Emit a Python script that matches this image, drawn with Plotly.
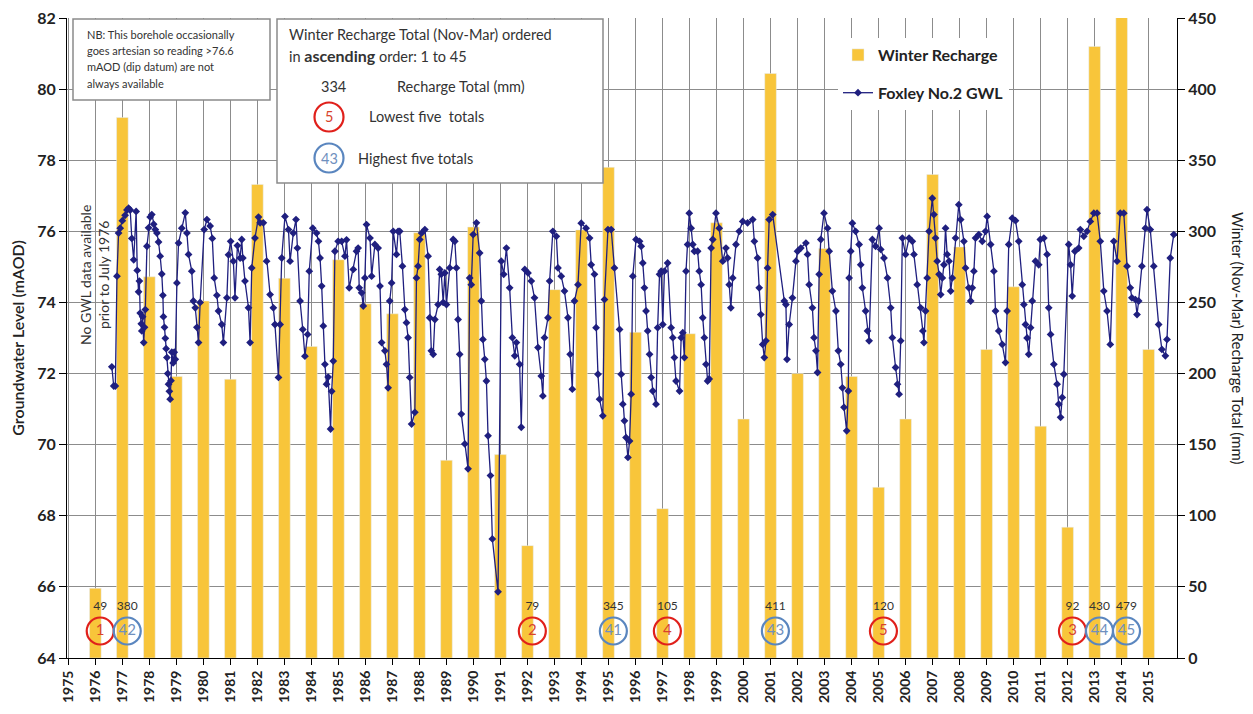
"""
Foxley No.2 groundwater level against winter (Nov-Mar) recharge totals, 1976-2015
"""
import plotly.graph_objects as go

FONT = "Lato, 'Open Sans', sans-serif"
BAR_COLOR = "#F8C53A"
LINE_COLOR = "#1F1F7F"
GRID_COLOR = "#8C8C8C"
RED = "#E0201B"
BLUE = "#5A86BF"

# Winter recharge totals (mm), one bar per year
recharge_years = list(range(1976, 2016))
recharge_mm = [49, 380, 268, 198, 251, 196, 333, 267, 219, 280,
               249, 242, 299, 139, 303, 143, 79, 259, 301, 345,
               229, 105, 228, 306, 168, 411, 200, 288, 198, 120,
               168, 340, 289, 217, 261, 163, 92, 430, 479, 217]

# Ranked years (lowest / highest five totals)
low_years = [1976, 1992, 1997, 2005, 2012]
low_ranks = ["1", "2", "4", "5", "3"]
high_years = [1977, 1995, 2001, 2013, 2014]
high_ranks = ["42", "41", "43", "44", "45"]

# Groundwater level (mAOD) readings, decimal year
gwl_year = [
    1976.61, 1976.68, 1976.74, 1976.80, 1976.86, 1976.92,
    1977.00, 1977.10, 1977.17, 1977.23, 1977.29, 1977.35, 1977.42, 1977.51, 1977.55, 1977.60,
    1977.63, 1977.66, 1977.70, 1977.72, 1977.75, 1977.79, 1977.82, 1977.85, 1977.91, 1977.97,
    1978.03, 1978.09, 1978.16, 1978.22, 1978.28, 1978.34, 1978.40, 1978.46, 1978.50, 1978.52,
    1978.56, 1978.59, 1978.62, 1978.65, 1978.68, 1978.71, 1978.74, 1978.77, 1978.80, 1978.83,
    1978.88, 1978.92, 1978.96,
    1979.02, 1979.08, 1979.20, 1979.33, 1979.39, 1979.45, 1979.57, 1979.63, 1979.70, 1979.76, 1979.82, 1979.88,
    1980.03, 1980.13, 1980.25, 1980.33, 1980.40, 1980.50, 1980.56, 1980.68, 1980.74, 1980.87, 1980.93,
    1981.01, 1981.11, 1981.17, 1981.26, 1981.36, 1981.42, 1981.46, 1981.54, 1981.67, 1981.73, 1981.79, 1981.91,
    1982.04, 1982.10, 1982.22, 1982.34, 1982.47, 1982.59, 1982.65, 1982.78, 1982.84, 1982.90,
    1983.02, 1983.15, 1983.21, 1983.33, 1983.43, 1983.48, 1983.58, 1983.68, 1983.76, 1983.86, 1983.92,
    1984.05, 1984.19, 1984.26, 1984.32, 1984.38, 1984.44, 1984.50, 1984.56, 1984.62, 1984.71, 1984.75,
    1984.81, 1984.87, 1984.99,
    1985.12, 1985.24, 1985.30, 1985.40, 1985.55, 1985.67, 1985.73, 1985.77, 1985.86, 1985.92, 1985.98,
    1986.04, 1986.17, 1986.23, 1986.35, 1986.47, 1986.54, 1986.60, 1986.72, 1986.78, 1986.84, 1986.90, 1986.97,
    1987.03, 1987.15, 1987.21, 1987.27, 1987.37, 1987.46, 1987.52, 1987.58, 1987.64, 1987.71, 1987.83,
    1987.89, 1987.95,
    1988.01, 1988.08, 1988.20, 1988.32, 1988.38, 1988.44, 1988.51, 1988.57, 1988.69, 1988.75, 1988.81,
    1988.88, 1988.94,
    1989.00, 1989.12, 1989.25, 1989.31, 1989.37, 1989.43, 1989.49, 1989.55, 1989.68, 1989.80, 1989.86,
    1989.92, 1989.99,
    1990.11, 1990.23, 1990.29, 1990.35, 1990.42, 1990.48, 1990.54, 1990.63, 1990.70, 1990.91,
    1991.03, 1991.12, 1991.22, 1991.34, 1991.44, 1991.53, 1991.59, 1991.71, 1991.77, 1991.90,
    1992.02, 1992.14, 1992.26, 1992.39, 1992.51, 1992.57, 1992.63, 1992.76, 1992.82, 1992.94,
    1993.07, 1993.13, 1993.25, 1993.37, 1993.50, 1993.58, 1993.66, 1993.74, 1993.87, 1993.99,
    1994.17, 1994.30, 1994.36, 1994.48, 1994.54, 1994.61, 1994.67, 1994.79, 1994.85, 1994.98,
    1995.10, 1995.22, 1995.41, 1995.47, 1995.53, 1995.59, 1995.65, 1995.72, 1995.78, 1995.84, 1995.90,
    1996.02, 1996.15, 1996.21, 1996.27, 1996.33, 1996.39, 1996.45, 1996.52, 1996.58, 1996.64, 1996.76,
    1996.82, 1996.89, 1996.95,
    1997.01, 1997.07, 1997.19, 1997.32, 1997.38, 1997.44, 1997.50, 1997.63, 1997.69, 1997.75, 1997.81,
    1997.87, 1997.93, 1997.99,
    1998.06, 1998.12, 1998.18, 1998.30, 1998.36, 1998.43, 1998.49, 1998.55, 1998.61, 1998.67, 1998.73,
    1998.80, 1998.86, 1998.98,
    1999.10, 1999.23, 1999.35, 1999.41, 1999.47, 1999.53, 1999.60, 1999.72, 1999.84, 1999.97,
    2000.15, 2000.34, 2000.40, 2000.52, 2000.58, 2000.64, 2000.71, 2000.77, 2000.83, 2000.89, 2000.95,
    2001.08, 2001.51, 2001.57, 2001.61, 2001.69, 2001.81, 2001.94,
    2002.00, 2002.12, 2002.31, 2002.37, 2002.43, 2002.55, 2002.61, 2002.68, 2002.74, 2002.80, 2002.86, 2002.98,
    2003.11, 2003.17, 2003.29, 2003.42, 2003.51, 2003.60, 2003.66, 2003.72, 2003.82, 2003.88, 2003.91, 2003.97,
    2004.03, 2004.15, 2004.28, 2004.34, 2004.40, 2004.52, 2004.59, 2004.65, 2004.77, 2004.89,
    2005.02, 2005.08, 2005.20, 2005.33, 2005.45, 2005.51, 2005.63, 2005.70, 2005.76, 2005.82, 2005.88,
    2006.00, 2006.13, 2006.25, 2006.31, 2006.43, 2006.56, 2006.64, 2006.68, 2006.74, 2006.80, 2006.87, 2006.99,
    2007.05, 2007.11, 2007.17, 2007.24, 2007.30, 2007.36, 2007.42, 2007.48, 2007.54, 2007.61, 2007.67,
    2007.73, 2007.85, 2007.97,
    2008.04, 2008.16, 2008.22, 2008.34, 2008.41, 2008.47, 2008.53, 2008.59, 2008.71, 2008.84, 2008.96,
    2009.02, 2009.15, 2009.27, 2009.33, 2009.45, 2009.58, 2009.70, 2009.76, 2009.82, 2009.95,
    2010.07, 2010.19, 2010.32, 2010.38, 2010.44, 2010.50, 2010.56, 2010.63, 2010.69, 2010.81, 2010.93, 2010.99,
    2011.12, 2011.24, 2011.30, 2011.37, 2011.49, 2011.61, 2011.67, 2011.74, 2011.80, 2011.86,
    2012.04, 2012.11, 2012.17, 2012.27, 2012.41, 2012.47, 2012.60, 2012.72, 2012.84, 2012.97,
    2013.09, 2013.21, 2013.34, 2013.46, 2013.58, 2013.71, 2013.83, 2013.95,
    2014.08, 2014.20, 2014.32, 2014.38, 2014.51, 2014.57, 2014.63, 2014.75, 2014.88, 2014.94,
    2015.06, 2015.19, 2015.37, 2015.49, 2015.62, 2015.68, 2015.80, 2015.93,
]
gwl_level = [
    72.19, 71.65, 71.65, 74.74, 75.95, 76.09,
    76.30, 76.45, 76.60, 76.65, 76.60, 75.80, 75.20, 76.56, 74.90, 74.30,
    74.60, 73.70, 73.40, 73.20, 73.60, 72.87, 73.30, 73.80, 75.58, 76.10,
    76.40, 76.47, 76.20, 76.05, 75.95, 75.70, 75.30, 74.80, 74.20, 73.60,
    73.30, 72.99, 72.70, 72.45, 72.00, 71.70, 71.50, 71.28, 71.80, 72.60,
    72.30, 72.60, 72.40,
    74.55, 75.67, 76.09, 76.52, 75.95, 75.35, 74.88, 74.04, 73.85, 73.30, 72.87, 74.00,
    76.05, 76.33, 76.15, 75.80, 74.69, 74.20, 73.76, 73.38, 72.87, 74.13, 75.34,
    75.72, 75.16, 74.13, 75.60, 75.25, 75.77, 75.25, 74.60, 73.85, 72.87, 74.97, 75.81,
    76.40, 76.24, 76.24, 75.16, 74.22, 73.85, 73.38, 71.89, 73.38, 75.25,
    76.42, 76.05, 75.16, 75.95, 76.33, 75.53, 74.04, 73.24, 72.49, 73.10, 74.88,
    76.09, 75.95, 75.72, 75.25, 74.46, 73.34, 72.26, 71.70, 71.90, 70.44, 71.50,
    72.35, 75.44, 75.72,
    75.72, 75.30, 75.76, 74.41, 74.93, 75.44, 75.53, 74.41, 74.27, 73.90, 74.69,
    76.19, 75.81, 74.74, 75.63, 75.53, 74.46, 72.87, 72.64, 72.26, 71.60, 74.04, 74.55,
    76.00, 75.35, 76.00, 76.00, 75.02, 73.80, 73.43, 73.01, 71.89, 70.58, 70.91,
    74.69, 75.02,
    75.77, 75.95, 76.05, 75.30, 73.57, 72.64, 72.54, 73.52, 73.94, 74.93, 74.79,
    74.00, 74.83,
    73.94, 74.97, 75.77, 75.72, 74.97, 73.52, 72.54, 70.86, 70.02, 69.32, 74.69,
    74.50, 75.91,
    76.24, 75.39, 74.04, 72.96, 72.40, 71.79, 70.25, 69.13, 67.35, 65.86,
    75.16, 74.79, 75.53, 74.41, 73.01, 72.50, 72.87, 72.26, 70.49, 74.93,
    74.83, 74.60, 74.13, 72.73, 71.93, 71.37, 73.01, 73.57, 74.60, 76.00,
    75.86, 74.97, 74.74, 74.32, 73.57, 72.54, 71.56, 74.04, 74.50, 76.23,
    76.09, 75.81, 75.06, 74.79, 73.29, 71.98, 71.28, 70.81, 74.08, 76.05,
    76.05, 74.97, 73.24, 71.98, 71.14, 70.67, 70.20, 69.64, 70.10, 71.42, 74.74,
    75.77, 75.72, 75.58, 75.11, 74.41, 73.76, 73.20, 72.54, 71.89, 71.51, 71.14,
    73.29, 74.79, 74.88,
    73.38, 74.88, 75.11, 73.29, 73.01, 72.45, 71.79, 71.51, 73.01, 73.15, 72.45,
    74.88, 75.63, 76.51,
    76.09, 75.63, 75.44, 75.44, 74.88, 74.50, 73.57, 73.01, 72.26, 71.79, 71.85,
    75.53, 75.77, 76.51,
    76.09, 75.16, 75.53, 75.25, 74.50, 73.85, 74.69, 75.63, 76.00, 76.28,
    76.24, 76.33, 75.72, 75.25, 74.41, 73.66, 72.82, 72.45, 72.92, 74.97, 76.33,
    76.47, 74.04, 73.94, 72.40, 73.38, 74.13, 75.16,
    75.44, 75.53, 75.67, 75.35, 74.50, 73.85, 73.01, 72.64, 72.03, 74.79, 75.77, 76.51,
    76.09, 75.44, 74.32, 73.76, 72.64, 72.26, 71.60, 71.05, 70.39, 71.51, 74.69, 75.44,
    76.23, 76.00, 75.63, 75.06, 74.41, 73.76, 73.20, 72.92, 75.77, 75.58,
    76.09, 75.49, 75.25, 74.69, 73.85, 73.01, 72.17, 71.70, 71.42, 72.92, 75.81,
    75.35, 75.81, 75.72, 75.35, 74.50, 73.85, 73.20, 72.87, 73.76, 74.69, 76.00, 76.93,
    76.47, 75.81, 75.16, 74.79, 74.22, 74.69, 75.06, 76.09, 75.35, 75.16, 74.32,
    74.69, 75.81, 76.75,
    76.33, 75.72, 74.97, 74.41, 74.04, 74.41, 74.88, 75.81, 75.91, 75.72, 76.00,
    76.42, 75.63, 74.88, 73.76, 73.20, 72.82, 72.31, 73.76, 75.63, 76.37,
    76.30, 75.72, 74.50, 73.94, 73.38, 73.00, 72.54, 73.29, 74.04, 75.16, 75.06, 75.77,
    75.81, 75.35, 73.85, 73.10, 72.26, 71.70, 71.14, 70.77, 71.33, 71.98,
    75.63, 75.06, 74.18, 75.44, 75.53, 76.05, 75.86, 76.00, 76.28, 76.51,
    76.51, 75.72, 74.32, 73.76, 72.82, 75.72, 75.16, 76.51,
    76.51, 75.02, 74.41, 74.13, 74.08, 73.66, 74.04, 75.02, 76.09, 76.61,
    76.05, 75.02, 73.38, 72.68, 72.50, 72.96, 75.25, 75.91,
]
assert len(gwl_year) == len(gwl_level)

tick_years = list(range(1975, 2016))

# label placement (recharge axis, mm) and nudge to the right of the year
CIRCLE_LEVEL = 19
VALUE_LEVEL = 36
NUDGE = 0.18


def recharge_of(year):
    return recharge_mm[recharge_years.index(year)]


# helpers to place the text boxes, measured from the plot area (1110 x 640 px)
def paper_x(px):
    return (px - 67) / 1110


def paper_y(py):
    return (658 - py) / 640


fig = go.Figure()

fig.add_trace(go.Bar(
    x=recharge_years, y=recharge_mm, yaxis="y",
    name="Winter Recharge", marker_color=BAR_COLOR, width=0.43,
    legendgroup="bar",
))

# value labels above the ranked years
ranked = sorted(low_years + high_years)
fig.add_trace(go.Scatter(
    x=[y + NUDGE for y in ranked], y=[VALUE_LEVEL] * len(ranked), yaxis="y",
    mode="text", text=[str(recharge_of(y)) for y in ranked],
    textfont=dict(size=12, color="#333", family=FONT),
    showlegend=False, hoverinfo="skip",
))

for years, ranks, col, txtcol in [(low_years, low_ranks, RED, "#D8442C"),
                                  (high_years, high_ranks, BLUE, "#6F90BE")]:
    fig.add_trace(go.Scatter(
        x=[y + NUDGE for y in years], y=[CIRCLE_LEVEL] * len(years), yaxis="y",
        mode="markers+text", text=ranks, textposition="middle center",
        textfont=dict(size=15, color=txtcol, family=FONT),
        marker=dict(symbol="circle-open", size=27, color=col, line=dict(width=2.2, color=col)),
        showlegend=False, hoverinfo="skip",
    ))

fig.add_trace(go.Scatter(
    x=gwl_year, y=gwl_level, yaxis="y2",
    mode="lines+markers", name="Foxley No.2 GWL",
    line=dict(color=LINE_COLOR, width=1.3),
    marker=dict(symbol="diamond", size=6, color=LINE_COLOR),
    legendgroup="gwl",
))

shapes = [
    # NB note box
    dict(type="rect", xref="paper", yref="paper", x0=paper_x(73), x1=paper_x(270),
         y0=paper_y(100), y1=paper_y(19), fillcolor="white", line=dict(color="#8a8a8a", width=1.5),
         layer="above"),
    # ranking key box
    dict(type="rect", xref="paper", yref="paper", x0=paper_x(277), x1=paper_x(603),
         y0=paper_y(183), y1=paper_y(19), fillcolor="white", line=dict(color="#8a8a8a", width=1.5),
         layer="above"),
]
for py, col in [(117, RED), (158, BLUE)]:
    shapes.append(dict(type="circle", xref="paper", yref="paper",
                       xsizemode="pixel", ysizemode="pixel",
                       xanchor=paper_x(329), yanchor=paper_y(py),
                       x0=-14.5, x1=14.5, y0=-14.5, y1=14.5,
                       line=dict(color=col, width=2.2), layer="above"))

annotations = []
nb_lines = ["NB: This borehole occasionally", "goes artesian so reading >76.6",
            "mAOD (dip datum) are not", "always available"]
for i, txt in enumerate(nb_lines):
    annotations.append(dict(xref="paper", yref="paper", x=paper_x(85), y=paper_y(34 + 16.5 * i),
                            xanchor="left", yanchor="middle", showarrow=False, text=txt,
                            font=dict(size=11, color="#333", family=FONT)))

key_items = [
    (287, 34, "left", "Winter Recharge Total (Nov-Mar) ordered", 14.5, "#333"),
    (287, 55, "left", "in <b><span style='font-size:16px'>ascending</span></b> order: 1 to 45", 14.5, "#333"),
    (333, 87, "center", "334", 14.5, "#333"),
    (395, 87, "left", "Recharge Total (mm)", 14.5, "#333"),
    (329, 117, "center", "5", 14.5, "#D8442C"),
    (367, 117, "left", "Lowest five  totals", 14.5, "#333"),
    (329, 158, "center", "43", 14.5, "#6F90BE"),
    (356, 158, "left", "Highest five totals", 14.5, "#333"),
]
for px, py, anchor, txt, size, col in key_items:
    annotations.append(dict(xref="paper", yref="paper", x=paper_x(px), y=paper_y(py),
                            xanchor=anchor, yanchor="middle", showarrow=False, text=txt,
                            font=dict(size=size, color=col, family=FONT)))

annotations.append(dict(xref="paper", yref="paper", x=paper_x(94), y=paper_y(275),
                        xanchor="center", yanchor="middle", showarrow=False, textangle=-90,
                        text="No GWL data available<br>prior to July 1976",
                        font=dict(size=14, color="#333", family=FONT)))

annotations.append(dict(xref="paper", yref="paper", x=paper_x(1238), y=0.5,
                        xanchor="center", yanchor="middle", showarrow=False, textangle=90,
                        text="Winter (Nov-Mar) Recharge Total (mm)",
                        font=dict(size=15, color="#222", family=FONT)))

fig.update_layout(
    width=1253, height=714,
    margin=dict(l=59, r=84, t=10, b=64, autoexpand=False),
    paper_bgcolor="white", plot_bgcolor="white",
    font=dict(family=FONT, color="#222"),
    xaxis=dict(
        range=[1974.95, 2016.05], tickmode="array", tickvals=tick_years,
        ticktext=[str(y) for y in tick_years], tickangle=-90,
        tickfont=dict(size=14, weight="bold", color="#222"),
        ticks="outside", ticklen=6, tickcolor="black",
        showline=True, linecolor="black", linewidth=1,
        showgrid=True, gridcolor=GRID_COLOR, gridwidth=1, zeroline=False,
        automargin=False, ticklabeloverflow="allow",
    ),
    yaxis=dict(
        side="right", range=[0, 450], dtick=50,
        tickfont=dict(size=16, weight="bold", color="#222"),
        ticks="outside", ticklen=7, tickcolor="black",
        showline=True, linecolor="black", linewidth=1,
        showgrid=True, gridcolor=GRID_COLOR, gridwidth=1, zeroline=False,
        automargin=False, ticklabeloverflow="allow",
    ),
    yaxis2=dict(
        overlaying="y", side="left", range=[64, 82], dtick=2,
        tickfont=dict(size=16, weight="bold", color="#222"),
        ticks="outside", ticklen=7, tickcolor="black",
        showline=True, linecolor="black", linewidth=1,
        showgrid=False, zeroline=False, automargin=False, ticklabeloverflow="allow",
        title=dict(text="Groundwater Level (mAOD)",
                   font=dict(size=16, color="#222", weight=600), standoff=10),
    ),
    legend=dict(
        x=paper_x(838), y=paper_y(38), xanchor="left", yanchor="top",
        bgcolor="white", borderwidth=0, traceorder="grouped", tracegroupgap=14,
        font=dict(size=16, weight="bold", color="#222", family=FONT), itemwidth=30,
    ),
    shapes=shapes,
    annotations=annotations,
)

fig.write_html("out.html")
